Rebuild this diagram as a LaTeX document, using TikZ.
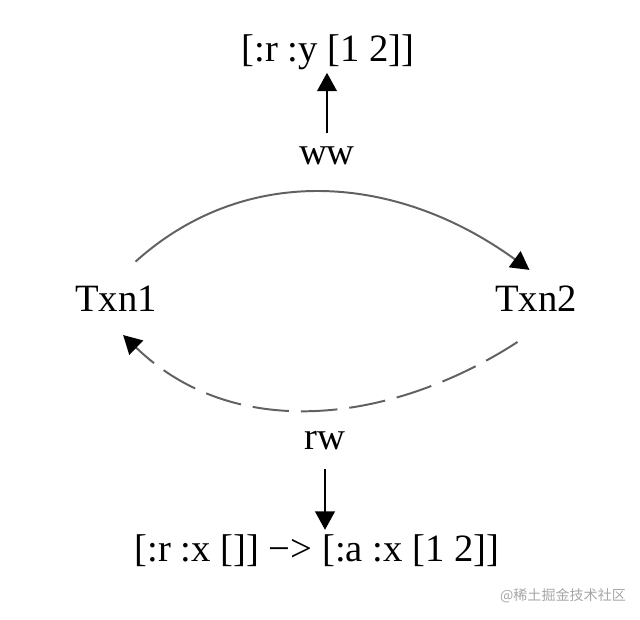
\documentclass[tikz,border=0pt]{standalone}
\usepackage{fontspec}
\setmainfont{Liberation Serif}
\newfontfamily\cjkfont{Noto Sans CJK SC}
\usetikzlibrary{arrows.meta}
\tikzset{
    dep graph/.style   = {>={Triangle[length=13pt, width=14pt, color=black]},
                          x=0.025cm, y=0.025cm},
    big/.style         = {font=\fontsize{27.5}{33}\selectfont},
    txn/.style         = {big, anchor=base, text height=19pt, text depth=0pt,
                          inner xsep=3pt, inner ysep=16.4pt},
    record/.style      = {big, anchor=base, text height=19pt, text depth=4pt,
                          inner sep=3.5pt},
    link/.style        = {->, line width=1.1pt},
    edge/.style        = {->, line width=1.4pt, draw=black!62},
    dashed edge/.style = {edge, dash pattern=on 26pt off 8.5pt},
    credit/.style      = {font=\cjkfont\fontsize{10}{12}\selectfont, text=black!35}
}

\begin{document}
\begin{tikzpicture}[dep graph]
\useasboundingbox (0,0) rectangle (640,620);

% ================= Transactions =================
\node[txn] (txn1) at (116, 308.3) {Txn1};
\node[txn] (txn2) at (536, 308.3) {Txn2};

% ================= Dependency edges =================
\draw[edge, shorten >=-10pt] (txn1.62) to[out=42, in=144] (txn2.116);
\draw[dashed edge, shorten <=9pt] (txn2.258) to[out=-147, in=-44] (txn1.281);

% ================= Edge labels and the operations behind them =================
\node[record] (ww) at (327, 455) {ww};
\node[record] (writes y) at (328, 558) {[:r :y [1 2]]};
\draw[link] (ww.north) -- (ww.north |- writes y.south);

\node[record] (rw) at (325, 170) {rw};
\node[record] (reads x) at (317, 58.3) {[:r :x []] −> [:a :x [1 2]]};
\draw[link, shorten <=6pt] (rw.south) -- (rw.south |- reads x.north);

% ================= Watermark =================
\node[credit] (source) at (563, 24) {@稀土掘金技术社区};

\end{tikzpicture}
\end{document}
